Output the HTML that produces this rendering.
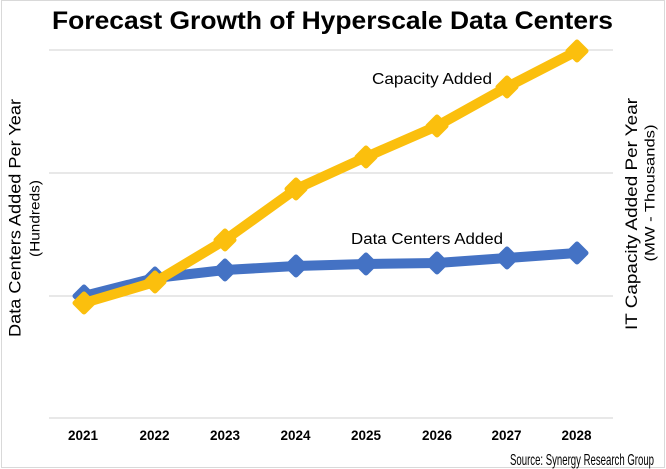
<!DOCTYPE html>
<html>
<head>
<meta charset="utf-8">
<style>
html,body{margin:0;padding:0;background:#fff;}
svg{display:block;}
text{font-family:"Liberation Sans",Arial,sans-serif;fill:#000;}
</style>
</head>
<body>
<svg width="666" height="469" viewBox="0 0 666 469" xmlns="http://www.w3.org/2000/svg">
  <rect x="0" y="0" width="666" height="469" fill="#fff"/>
  <rect x="1.5" y="0.5" width="663" height="467" fill="none" stroke="#d9d9d9" stroke-width="1"/>

  <!-- title -->
  <text x="52" y="29" font-size="25" font-weight="bold" textLength="561" lengthAdjust="spacingAndGlyphs">Forecast Growth of Hyperscale Data Centers</text>

  <!-- gridlines -->
  <g stroke="#d9d9d9" stroke-width="1.2">
    <line x1="49" y1="50" x2="613" y2="50"/>
    <line x1="49" y1="173" x2="613" y2="173"/>
    <line x1="49" y1="296" x2="613" y2="296"/>
    <line x1="49" y1="418" x2="613" y2="418"/>
  </g>

  <!-- axis titles -->
  <text transform="translate(20.5,218) rotate(-90)" text-anchor="middle" font-size="16.5" textLength="238" lengthAdjust="spacingAndGlyphs">Data Centers Added Per Year</text>
  <text transform="translate(39.5,218.5) rotate(-90)" text-anchor="middle" font-size="14" textLength="77" lengthAdjust="spacingAndGlyphs">(Hundreds)</text>
  <text transform="translate(637,214) rotate(-90)" text-anchor="middle" font-size="16.5" textLength="232" lengthAdjust="spacingAndGlyphs">IT Capacity Added Per Year</text>
  <text transform="translate(654.5,193) rotate(-90)" text-anchor="middle" font-size="14" textLength="137" lengthAdjust="spacingAndGlyphs">(MW - Thousands)</text>

  <!-- blue series -->
  <g fill="#4472C4" stroke="#4472C4">
    <polyline fill="none" stroke-width="10" stroke-linejoin="round" points="84,296 155,278 225,270 296,266 366,264 437,263 507,258 577,253"/>
    <g stroke-width="5" stroke-linejoin="round">
      <polygon points="84,287 93,296 84,305 75,296"/>
      <polygon points="155,269 164,278 155,287 146,278"/>
      <polygon points="225,261 234,270 225,279 216,270"/>
      <polygon points="296,257 305,266 296,275 287,266"/>
      <polygon points="366,255 375,264 366,273 357,264"/>
      <polygon points="437,254 446,263 437,272 428,263"/>
      <polygon points="507,249 516,258 507,267 498,258"/>
      <polygon points="577,244 586,253 577,262 568,253"/>
    </g>
  </g>

  <!-- yellow series -->
  <g fill="#FBBF0D" stroke="#FBBF0D">
    <polyline fill="none" stroke-width="10" stroke-linejoin="round" points="84,303 155,282 225,240 296,189 366,157 437,126 507,87 577,51"/>
    <g stroke-width="5" stroke-linejoin="round">
      <polygon points="84,294 93,303 84,312 75,303"/>
      <polygon points="155,273 164,282 155,291 146,282"/>
      <polygon points="225,231 234,240 225,249 216,240"/>
      <polygon points="296,180 305,189 296,198 287,189"/>
      <polygon points="366,148 375,157 366,166 357,157"/>
      <polygon points="437,117 446,126 437,135 428,126"/>
      <polygon points="507,78 516,87 507,96 498,87"/>
      <polygon points="577,42 586,51 577,60 568,51"/>
    </g>
  </g>

  <!-- series labels -->
  <text x="372" y="84" font-size="16" textLength="120" lengthAdjust="spacingAndGlyphs">Capacity Added</text>
  <text x="351" y="244" font-size="15.5" textLength="152" lengthAdjust="spacingAndGlyphs">Data Centers Added</text>

  <!-- x labels -->
  <g font-size="13.5" font-weight="bold" text-anchor="middle">
    <text x="83" y="440">2021</text>
    <text x="154.5" y="440">2022</text>
    <text x="225" y="440">2023</text>
    <text x="295.5" y="440">2024</text>
    <text x="366" y="440">2025</text>
    <text x="437" y="440">2026</text>
    <text x="506.5" y="440">2027</text>
    <text x="576.5" y="440">2028</text>
  </g>

  <!-- source -->
  <text x="510" y="465" font-size="16" textLength="144" lengthAdjust="spacingAndGlyphs">Source: Synergy Research Group</text>
</svg>
</body>
</html>
